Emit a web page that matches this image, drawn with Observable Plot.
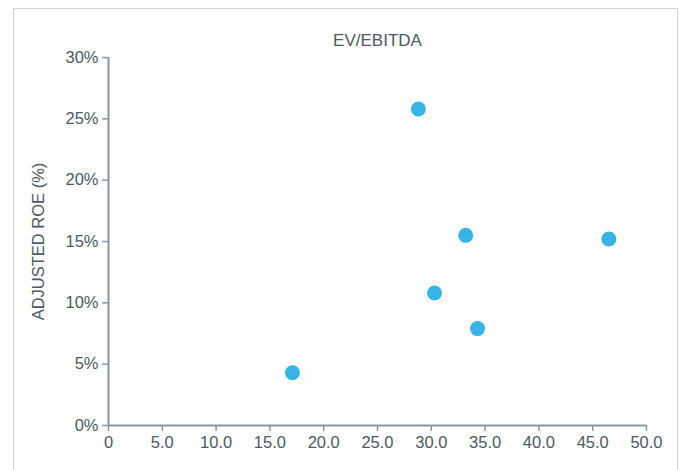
<!DOCTYPE html>
<html>
<head>
<meta charset="utf-8">
<script src="https://cdn.jsdelivr.net/npm/d3@7"></script>
<script src="https://cdn.jsdelivr.net/npm/@observablehq/plot@0.6"></script>
<style>
  html, body { margin: 0; padding: 0; background: #fff; }
  #wrap { position: relative; width: 680px; height: 470px; overflow: hidden; }
  #border { position: absolute; left: 13px; top: 8px; width: 665px; height: 480px; border: 1.5px solid #cfd6db; box-sizing: border-box; }
  #chart { position: absolute; left: 0; top: 0; }
  #chart svg { font-family: "Liberation Sans", Arial, sans-serif; }
</style>
</head>
<body>
<div id="wrap"><div id="border"></div><div id="chart"></div></div>
<script>
const evEbitda = [17.1, 28.8, 30.3, 33.2, 34.3, 46.5];
const adjustedRoe = [0.043, 0.258, 0.108, 0.155, 0.079, 0.152];
const xTicks = [0, 5, 10, 15, 20, 25, 30, 35, 40, 45, 50];
const yTicks = [0, 0.05, 0.10, 0.15, 0.20, 0.25, 0.30];
const title = "EV/EBITDA";
const yLabel = "ADJUSTED ROE (%)";

const data = evEbitda.map((x, i) => ({x, y: adjustedRoe[i]}));
const axisColor = "#8a96a0";
const textColor = "#4d5964";

const plot = Plot.plot({
  width: 680,
  height: 470,
  marginLeft: 108,
  marginRight: 34,
  marginTop: 57,
  marginBottom: 45,
  style: {fontSize: "16px", color: textColor, background: "transparent"},
  x: {domain: [0, 50]},
  y: {domain: [0, 0.30]},
  marks: [
    Plot.axisX({ticks: xTicks, tickFormat: d => d === 0 ? "0" : d.toFixed(1), tickSize: 6, tickPadding: 5, stroke: axisColor, strokeWidth: 1.5, color: textColor, label: null, fontSize: 16.5, letterSpacing: 0.3}),
    Plot.axisY({ticks: yTicks, tickFormat: d => Math.round(d * 100) + "%", tickSize: 6, tickPadding: 4, stroke: axisColor, strokeWidth: 1.5, color: textColor, label: yLabel, labelAnchor: "center", labelArrow: "none", labelOffset: 76, fontSize: 16.5, letterSpacing: 0.3}),
    Plot.ruleX([0], {stroke: axisColor, strokeWidth: 2}),
    Plot.ruleY([0], {stroke: axisColor, strokeWidth: 2}),
    Plot.text([title], {frameAnchor: "top", dy: -17, lineAnchor: "middle", text: d => d, fill: textColor, fontSize: 17, letterSpacing: 0.3, textAnchor: "middle"}),
    Plot.dot(data, {x: "x", y: "y", r: 7.5, fill: "#38b3e6", stroke: "none"})
  ]
});
document.getElementById("chart").appendChild(plot);
</script>
</body>
</html>
